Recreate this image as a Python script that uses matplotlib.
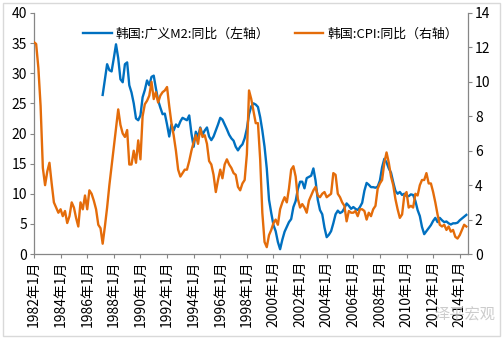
import numpy as np
import pandas as pd
import matplotlib
matplotlib.use("Agg")
import matplotlib.pyplot as plt
from matplotlib.patches import Rectangle

plt.rcParams['font.family'] = ['Noto Sans CJK SC', 'DejaVu Sans']
plt.rcParams['axes.unicode_minus'] = False

# 韩国 CPI 同比（%，右轴），1982年1月起每两个月一个值
cpi_yoy = [
    12.3, 12.2, 10.8, 8.6, 5.0, 4.0, 4.8, 5.3, 4.1, 3.0, 2.7, 2.4, 2.6, 2.2, 2.5, 1.8,
    2.2, 3.0, 2.7, 2.1, 1.6, 3.0, 2.6, 3.4, 2.6, 3.7, 3.5, 3.1, 2.6, 1.7, 1.5, 0.6,
    1.6, 2.7, 4.0, 5.1, 6.2, 7.3, 8.4, 7.5, 7.0, 6.8, 7.2, 5.2, 5.2, 6.0, 5.3, 6.6,
    5.5, 8.0, 8.7, 8.9, 9.2, 10.0, 9.0, 9.4, 8.8, 9.2, 9.4, 9.5, 9.7, 8.6, 7.6, 6.9,
    6.0, 4.9, 4.5, 4.7, 4.9, 4.9, 5.4, 6.0, 6.5, 6.9, 6.4, 7.3, 6.8, 6.9, 6.4, 5.4,
    5.2, 4.6, 3.6, 4.3, 4.9, 4.4, 5.2, 5.5, 5.2, 5.0, 4.7, 4.6, 3.9, 3.7, 4.1, 4.3,
    5.8, 9.5, 9.0, 8.3, 7.6, 7.6, 5.5, 2.4, 0.7, 0.4, 1.1, 1.4, 1.8, 2.0, 1.7, 2.6,
    3.0, 3.3, 3.0, 3.8, 4.9, 5.1, 4.5, 3.2, 2.7, 2.9, 2.7, 2.4, 3.1, 3.4, 3.7, 3.9,
    3.4, 3.3, 3.5, 3.6, 3.3, 3.4, 3.5, 4.7, 4.6, 3.5, 3.3, 3.0, 2.8, 1.9, 2.5, 2.4,
    2.4, 2.5, 2.2, 2.6, 2.6, 2.5, 2.0, 2.4, 2.2, 2.6, 2.8, 3.8, 4.1, 4.3, 5.3, 5.9,
    5.3, 4.5, 4.0, 3.2, 2.6, 2.1, 2.3, 3.4, 3.6, 2.7, 2.8, 2.7, 3.5, 3.4, 4.0, 4.3,
    4.3, 4.7, 4.1, 4.1, 3.6, 3.0, 2.3, 1.7, 1.6, 1.7, 1.4, 1.6, 1.3, 1.4, 1.0, 0.9,
    1.1, 1.4, 1.7, 1.6,
]

# 韩国 广义M2 同比（%，左轴），1987年3月起
m2_yoy = [
    26.4, 29.0, 31.5, 30.5, 30.3, 32.5, 34.8, 32.5, 29.0, 28.5, 31.5, 31.8, 28.0, 26.8,
    25.0, 22.5, 22.2, 23.0, 26.0, 27.2, 28.8, 28.0, 29.4, 29.6, 27.5, 25.5, 24.3, 23.2,
    23.3, 21.5, 19.5, 21.5, 20.5, 21.5, 21.1, 22.0, 22.6, 22.4, 22.2, 23.0, 20.0, 17.8,
    20.3, 19.4, 21.0, 19.8, 20.5, 21.0, 19.5, 18.9, 19.5, 20.5, 21.5, 22.6, 22.3, 21.5,
    20.7, 19.8, 19.2, 18.8, 17.8, 17.2, 17.8, 18.2, 19.2, 20.8, 23.2, 24.5, 25.0, 24.8,
    24.4, 22.7, 20.5, 17.8, 14.2, 9.0, 6.8, 4.8, 3.8, 2.0, 0.8, 2.4, 3.7, 4.5,
    5.3, 5.8, 7.8, 8.8, 10.8, 12.0, 12.0, 10.9, 12.6, 12.8, 13.0, 14.2, 12.2, 9.0,
    7.3, 6.6, 4.4, 2.8, 3.2, 3.8, 5.1, 6.6, 7.2, 6.8, 7.0, 7.6, 8.4, 8.0,
    7.5, 7.8, 7.5, 7.3, 7.8, 8.5, 10.5, 11.8, 11.5, 11.1, 11.1, 11.0, 11.2, 12.2,
    14.4, 15.8, 15.2, 14.2, 13.5, 11.9, 10.5, 10.0, 10.3, 9.8, 10.0, 9.6, 9.6, 9.9,
    9.8, 8.8, 7.3, 6.3, 4.5, 3.3, 3.8, 4.3, 4.8, 5.5, 6.0, 5.3, 6.0, 5.6,
    5.3, 5.4, 5.1, 4.9, 5.1, 5.1, 5.2, 5.6, 5.9, 6.2, 6.5,
]

cpi_dates = pd.date_range("1982-01-01", periods=len(cpi_yoy), freq="2MS")
m2_dates = cpi_dates[len(cpi_yoy) - len(m2_yoy):]

tick_years = list(range(1982, 2015, 2))
tick_labels = ["{}年1月".format(y) for y in tick_years]

blue = "#0070C0"
orange = "#E46C0A"
grey = "#868686"

fig = plt.figure(figsize=(5.03, 3.41), dpi=100)
fig.patches.append(Rectangle((0.006, 0.015), 0.988, 0.976, transform=fig.transFigure,
                             fill=False, edgecolor="#d9d9d9", linewidth=1.0))

ax = fig.add_axes([0.0676, 0.255, 0.8628, 0.707])
ax2 = ax.twinx()

l1, = ax.plot(m2_dates, m2_yoy, color=blue, lw=1.7, label="韩国:广义M2:同比（左轴）")
l2, = ax2.plot(cpi_dates, cpi_yoy, color=orange, lw=1.7, label="韩国:CPI:同比（右轴）")

ax.set_ylim(0, 40)
ax.set_yticks(np.arange(0, 41, 5))
ax2.set_ylim(0, 14)
ax2.set_yticks(np.arange(0, 15, 2))

ax.set_xlim(pd.Timestamp("1982-01-01"), pd.Timestamp("2014-08-15"))
ax.set_xticks([pd.Timestamp("{}-01-01".format(y)) for y in tick_years])
ax.set_xticklabels(tick_labels, rotation=90)

for a in (ax, ax2):
    a.spines["top"].set_visible(False)
    for s in ("left", "right", "bottom"):
        a.spines[s].set_color(grey)
        a.spines[s].set_linewidth(0.9)
    a.tick_params(axis="both", colors=grey, labelcolor="black", labelsize=10,
                  length=3, width=0.8, direction="out", pad=2)
ax.spines["right"].set_visible(False)
ax2.spines["left"].set_visible(False)
ax2.spines["bottom"].set_visible(False)

fig.legend(handles=[l1, l2], loc="upper left", bbox_to_anchor=(0.155, 0.935), ncol=2,
           frameon=False, fontsize=9.3, handlelength=2.2, handletextpad=0.3,
           columnspacing=2.0, borderaxespad=0)

# 水印
fig.text(0.985, 0.05, "泽平宏观", color="#c0c0c0", fontsize=11, ha="right",
         va="bottom", alpha=0.8)

fig.savefig("out.png", dpi=100)
